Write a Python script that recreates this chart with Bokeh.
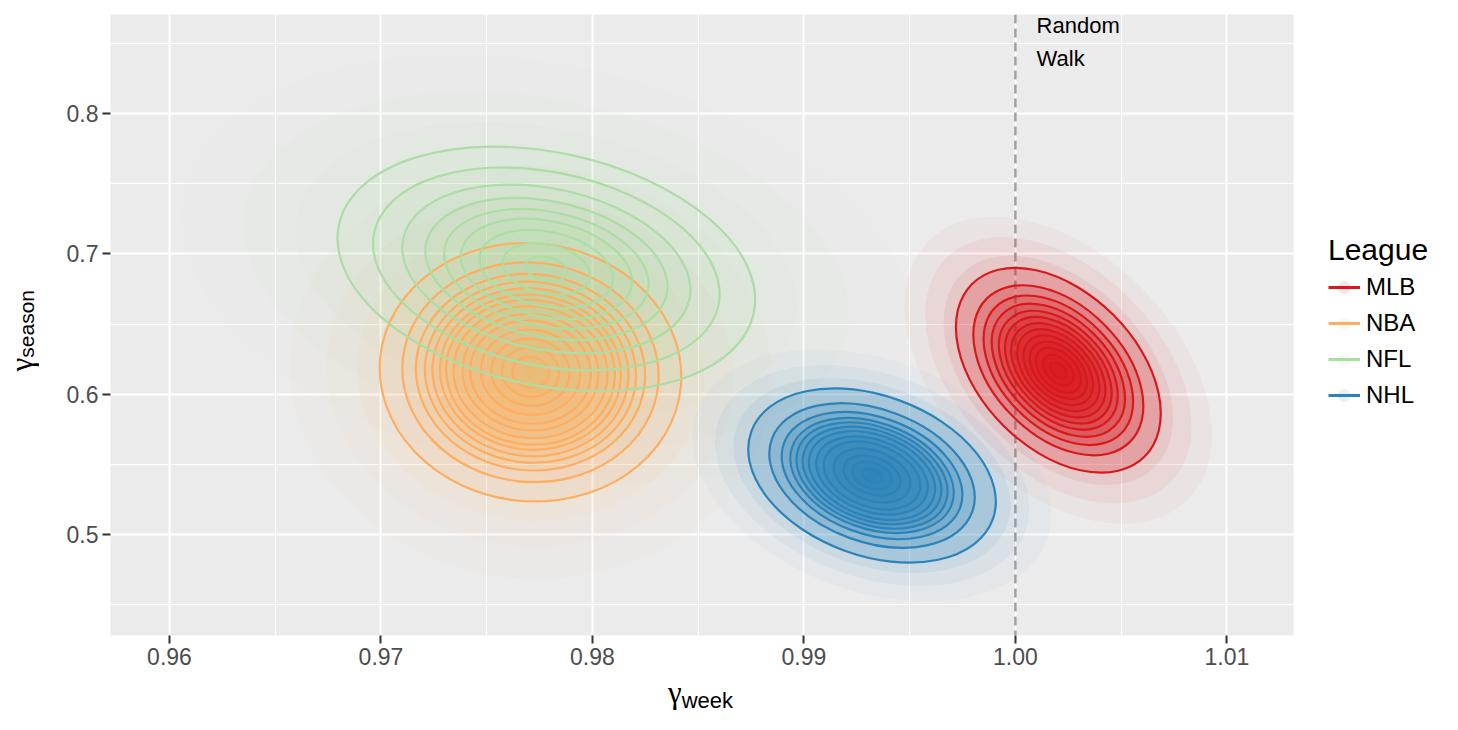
import math
from bokeh.plotting import figure
from bokeh.layouts import row, column
from bokeh.models import (Range1d, FixedTicker, Legend, LegendItem, Span, ColumnDataSource,
                          NumeralTickFormatter, Div)
from bokeh.embed import file_html
from bokeh.resources import INLINE
from bokeh.core.properties import value

# ---------------- data ----------------
leagues = ["MLB", "NBA", "NFL", "NHL"]
colors = ["#d7191c", "#fdae61", "#abdda4", "#2b83ba"]
# centre of each league's (gamma_week, gamma_season) cloud
center_week = [1.00203, 0.97707, 0.97782, 0.99322]
center_season = [0.6171, 0.6157, 0.6893, 0.5421]
# size of the outermost density contour (major axis in week units, minor axis in season units)
spread_week = [0.01154, 0.01428, 0.02005, 0.01215]
spread_season = [0.1112, 0.1839, 0.1661, 0.1140]
tilt_deg = [-45, -6, -12, -20]
# relative sizes of the density contour levels, outermost first
level_scales = {
    "MLB": [1.0, 0.83, 0.73, 0.65, 0.58, 0.52, 0.46, 0.40, 0.34, 0.28, 0.22, 0.15, 0.08],
    "NBA": [1.0, 0.85, 0.76, 0.70, 0.65, 0.60, 0.56, 0.51, 0.45, 0.40, 0.33, 0.26, 0.19, 0.12],
    "NFL": [1.0, 0.83, 0.69, 0.58, 0.49, 0.41, 0.32, 0.21, 0.10],
    "NHL": [1.0, 0.83, 0.73, 0.66, 0.61, 0.56, 0.51, 0.45, 0.39, 0.31, 0.23, 0.16, 0.08],
}
# spread of the scattered points beyond the outer contour (per league)
halo_scales = {
    "MLB": [1.5, 1.3, 1.12],
    "NBA": [1.6, 1.35, 1.15],
    "NFL": [1.75, 1.45, 1.2],
    "NHL": [1.45, 1.27, 1.12],
}
halo_weight = [0.45, 0.7, 1.0]
cloud_alpha = [0.21, 0.13, 0.09, 0.21]
halo_alpha = [0.08, 0.055, 0.05, 0.08]

x_ticks = [0.96, 0.97, 0.98, 0.99, 1.00, 1.01]
x_minor = [0.955, 0.965, 0.975, 0.985, 0.995, 1.005]
y_ticks = [0.5, 0.6, 0.7, 0.8]
y_minor = [0.45, 0.55, 0.65, 0.75, 0.85]
random_walk = 1.00
note_text = ["Random", "Walk"]
note_week = [1.001, 1.001]
note_season = [0.8627, 0.8392]

FONT = "Liberation Sans"

p = figure(frame_width=1183, frame_height=621, output_backend="svg", toolbar_location=None,
           x_range=Range1d(0.95721, 1.01315), y_range=Range1d(0.4281, 0.8706),
           min_border_left=65, min_border_top=14, min_border_right=140, min_border_bottom=48)
p.background_fill_color = "#ebebeb"
p.outline_line_color = None
p.border_fill_color = "white"

p.xaxis.ticker = FixedTicker(ticks=x_ticks, minor_ticks=x_minor)
p.yaxis.ticker = FixedTicker(ticks=y_ticks, minor_ticks=y_minor)
p.xaxis.formatter = NumeralTickFormatter(format="0.00")
p.yaxis.formatter = NumeralTickFormatter(format="0.0")
for g in (p.xgrid, p.ygrid):
    g.grid_line_color = "white"
    g.grid_line_width = 2
    g.minor_grid_line_color = "white"
    g.minor_grid_line_width = 1
for ax in (p.xaxis, p.yaxis):
    ax.axis_line_color = None
    ax.major_tick_line_color = "#333333"
    ax.major_tick_line_width = 2
    ax.major_tick_out = 8
    ax.major_tick_in = 0
    ax.minor_tick_line_color = None
    ax.major_label_text_color = "#4d4d4d"
    ax.major_label_text_font = FONT
    ax.major_label_text_font_size = "23px"
    ax.major_label_standoff = 4

p.add_layout(Span(location=random_walk, dimension="height", line_color="#a0a0a0",
                  line_dash="9 5", line_width=2.5, level="underlay"))

# point clouds (as translucent density layers)
for i, lg in enumerate(leagues):
    hs = halo_scales[lg]
    sc = hs + level_scales[lg]
    al = [halo_alpha[i] * w for w in halo_weight] + [cloud_alpha[i]] * len(level_scales[lg])
    src = ColumnDataSource(dict(
        x=[center_week[i]] * len(sc), y=[center_season[i]] * len(sc),
        w=[spread_week[i] * s for s in sc], h=[spread_season[i] * s for s in sc], a=al))
    p.ellipse(x="x", y="y", width="w", height="h", angle=math.radians(tilt_deg[i]),
              source=src, fill_color=colors[i], fill_alpha="a", line_color=None)

# density contours
for i, lg in enumerate(leagues):
    sc = level_scales[lg]
    src = ColumnDataSource(dict(
        x=[center_week[i]] * len(sc), y=[center_season[i]] * len(sc),
        w=[spread_week[i] * s for s in sc], h=[spread_season[i] * s for s in sc]))
    p.ellipse(x="x", y="y", width="w", height="h", angle=math.radians(tilt_deg[i]),
              source=src, fill_alpha=0, line_color=colors[i], line_width=2.2)

p.text(x=note_week, y=note_season, text=note_text, text_font=value(FONT),
       text_font_size="22px", text_baseline="alphabetic", text_color="black")

# legend keys: a faint point and the contour line colour, as in the reference
items = []
for i, lg in enumerate(leagues):
    r_pt = p.scatter(x=[center_week[i]], y=[center_season[i]], size=12,
                     fill_color=colors[i], fill_alpha=0.12, line_color=None)
    r_ln = p.line(x=[center_week[i]], y=[center_season[i]], line_color=colors[i], line_width=3.2)
    items.append(LegendItem(label=lg, renderers=[r_pt, r_ln]))
legend = Legend(items=items, title="League", location=(35, 224),
                title_text_font=FONT, title_text_font_size="30px", title_text_font_style="normal",
                title_text_color="black",
                label_text_font=FONT, label_text_font_size="24px", label_text_color="black",
                glyph_width=32, glyph_height=32, spacing=4, label_standoff=6,
                padding=0, margin=0, title_standoff=4,
                background_fill_alpha=0, border_line_color=None)
p.add_layout(legend, "right")

ytitle = Div(text=(
    "<div style=\"writing-mode:vertical-rl; transform:rotate(180deg); margin-top:290px; "
    "margin-left:6px; white-space:nowrap; color:black; line-height:1;\">"
    "<span style=\"font-family:'Liberation Serif'; font-size:31px;\">γ</span>"
    "<span style=\"font-family:'Liberation Sans'; font-size:21px; vertical-align:-5px;\">season</span>"
    "</div>"), width=45, height=683, margin=0)
xtitle = Div(text=(
    "<div style=\"margin-left:668px; margin-top:-6px; white-space:nowrap; color:black; line-height:1;\">"
    "<span style=\"font-family:'Liberation Serif'; font-size:31px;\">γ</span>"
    "<span style=\"font-family:'Liberation Sans'; font-size:22px; vertical-align:-5px;\">week</span>"
    "</div>"), width=1400, height=45, margin=0)

layout = column(row(ytitle, p, spacing=0), xtitle, spacing=0)
open("out.html", "w").write(file_html(layout, INLINE))
